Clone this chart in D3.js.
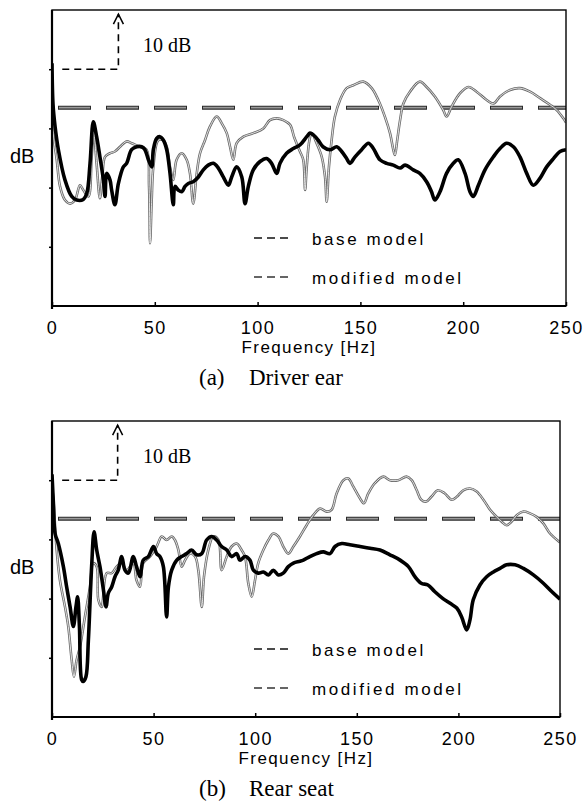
<html>
<head>
<meta charset="UTF-8">
<script src="https://d3js.org/d3.v7.min.js"></script>
<style>
  body { margin: 0; background: #fff; }
  text { fill: #000; }
  .sans { font-family: "Liberation Sans", Arial, sans-serif; }
  .serif { font-family: "Liberation Serif", "Times New Roman", serif; }
</style>
</head>
<body>
<svg id="chart" width="585" height="805"></svg>
<script>
// values: [frequency Hz, level dB] (level is relative, 10 dB per tick)
const freqTicks = [0, 50, 100, 150, 200, 250];
const levelTicks = [10, 20, 30, 40];
const refLevel = 33.5;
const legendLabels = ["base model", "modified model"];

const baseDriver = [[0.3,36],[0.6,29.2],[2.3,24.7],[3.9,20.2],[6.3,17.9],[8.8,17.3],[11.2,17.9],[13.6,20.4],[15.2,19.6],[17.7,18.5],
  [19.3,25.2],[20.3,29.5],[21.7,24],[23.3,18.2],[24.5,22],[25.8,25.2],[28.2,25.8],[30.6,26.1],[33.1,26.9],[36.3,27.8],[38.7,27.5],
  [42.8,26.9],[46.0,26.4],[47.2,20.2],[47.7,10.6],[48.5,17.9],[49.3,23.5],[51.7,28.0],[54.2,28.0],[55.8,26.9],[57.4,23.5],[59.0,21.3],
  [60.6,24.7],[63.1,25.8],[65.5,24.7],[67.1,22.4],[68.7,17.3],[70.4,22.4],[72.0,25.8],[74.4,28.0],[76.8,30.3],[80.1,32.0],[82.5,30.9],
  [85.0,29.2],[86.6,26.9],[88.2,24.7],[89.8,27.5],[93.1,28.6],[97.9,29.2],[102.8,30.0],[106.0,31.4],[109.3,31.7],[112.5,31.4],
  [115.8,30.6],[117.8,28.5],[120.6,26.1],[122.2,24.7],[123.1,19.6],[123.9,23.5],[125.2,28.0],[126.3,29.2],[128.7,27.5],[131.2,25.2],
  [132.8,21.8],[133.6,17.6],[134.7,23.5],[136.0,28.0],[137.6,32.0],[140.1,34.8],[143.3,36.8],[146.6,37.3],[151.4,37.9],[155.5,36.8],
  [158.7,34.8],[161.9,32.0],[164.4,29.2],[166.0,26.4],[166.8,25.5],[167.9,28.0],[169.3,31.4],[170.9,34.2],[174.1,36.2],[178.9,37.9],
  [182.2,37.0],[186.2,35.4],[190.3,33.1],[191.9,32.0],[194.4,33.7],[198.4,35.9],[202.5,37.0],[206.5,36.2],[211.4,34.8],[214.7,34.2],
  [217.9,35.4],[222.8,36.5],[227.6,36.8],[232.5,36.2],[237.4,35.1],[242.2,34.0],[245.5,33.1],[248.7,31.7],[250,31]];

const modDriver = [[0,41],[0.5,34],[1.5,30.3],[3.1,26.4],[6.3,21.3],[9.6,18.5],[12.0,17.9],[15.2,18.0],[16.9,19.0],[18.5,24.1],
  [20.1,31.1],[21.7,28.6],[23.3,25.2],[25.0,21.3],[25.8,18.5],[26.6,22.4],[28.2,21.3],[29.0,19.6],[30.6,17.1],[32.3,20.7],[34.7,23.5],
  [36.3,24.1],[38.7,26.4],[41.2,26.9],[43.6,26.9],[45.2,26.4],[46.9,24.7],[48.5,23.5],[49.3,26.4],[50.9,28.3],[52.5,28.6],[54.2,28.0],
  [55.8,26.4],[57.4,22.4],[59.0,17.1],[59.8,20.2],[61.4,19.6],[63.1,19.3],[64.7,20.2],[66.3,20.7],[68.7,21.0],[71.2,21.8],[73.6,23.0],
  [76.0,23.8],[78.5,24.1],[80.9,23.3],[83.3,21.8],[85.8,20.4],[87.4,21.8],[89.8,23.5],[92.3,21.8],[93.9,17.3],[95.5,20.2],[97.9,23.0],
  [101.2,24.4],[104.4,24.9],[106.8,24.1],[109.3,22.4],[110.9,24.1],[114.1,25.8],[117.4,26.6],[120.6,27.2],[123.9,28.6],[125.5,29.2],
  [127.1,28.9],[129.5,28.0],[131.8,26.9],[135.2,26.4],[138.5,26.9],[140.9,26.1],[143.3,24.9],[144.9,24.1],[147.4,25.2],[150.6,26.4],
  [153.9,27.5],[156.3,26.6],[159.5,24.7],[162.8,24.1],[166.0,23.8],[169.3,23.3],[171.7,23.8],[175.7,23.0],[178.9,22.4],[182.2,21.0],
  [184.6,19.3],[186.2,17.9],[188.7,19.3],[191.9,22.4],[195.2,24.1],[197.6,24.7],[200.9,22.4],[203.3,19.3],[204.9,18.5],[207.4,20.4],
  [210.6,23.0],[214.7,25.2],[217.9,26.6],[221.1,27.5],[224.4,26.9],[227.6,25.2],[230.9,22.4],[234.1,20.4],[237.4,21.6],[240.6,23.5],
  [243.9,24.9],[247.1,26.1],[250,26.4]];

const baseRear = [[0.3,38],[0.7,36.7],[2.3,28.2],[3.9,23.1],[6.4,18.6],[8.0,15.3],[9.7,9.6],[10.8,6.8],[12.1,9.6],[13.8,11.9],
  [16.2,16.9],[18.7,22.0],[20.3,26.0],[22.0,25.4],[22.8,19.8],[24.4,18.6],[26.9,24.3],[29.4,24.3],[31.8,25.4],[34.3,26.0],[36.7,24.8],
  [40.0,26.0],[41.6,23.1],[43.3,22.0],[44.9,26.0],[48.2,27.1],[51.5,28.8],[54.0,30.5],[56.4,29.9],[58.9,30.5],[60.5,29.9],[62.2,28.2],
  [63.8,25.4],[65.5,26.5],[67.9,27.6],[70.4,27.1],[72.0,24.8],[73.7,18.6],[74.8,23.7],[76.9,28.2],[79.4,30.5],[81.9,29.9],[83.5,24.8],
  [86.0,27.1],[88.4,28.8],[90.9,29.3],[93.3,28.2],[95.0,27.1],[96.6,22.6],[98.3,20.3],[99.9,23.1],[101.5,26.0],[104.0,28.2],[106.5,29.9],
  [108.9,31.0],[111.4,30.5],[113.8,28.8],[116.3,27.6],[118.8,28.8],[122.0,30.5],[125.3,32.4],[128.6,34.1],[131.9,35.2],[135.2,34.7],
  [137.6,35.0],[140.1,37.8],[143.4,40.0],[145.8,40.3],[148.3,38.9],[151.6,36.9],[153.5,36.1],[155.7,37.8],[158.9,39.5],[163.1,40.6],
  [166.3,40.0],[170.4,40.0],[174.5,40.6],[177.0,40.0],[179.5,38.3],[181.7,36.7],[184.2,36.4],[186.7,37.2],[189.9,38.3],[193.2,37.8],
  [196.7,36.7],[199.2,37.2],[202.4,38.3],[205.7,38.6],[209.0,38.1],[212.3,36.7],[215.6,35.0],[218.8,33.8],[221.3,33.0],[223.7,32.4],
  [226.2,33.0],[228.7,34.1],[232.0,34.7],[235.2,34.4],[238.5,33.8],[241.8,32.7],[245.1,31.0],[250,29.5]];

const modRear = [[0,41],[0.7,36],[1.5,31.0],[3.1,29.3],[5.6,25.4],[7.2,22.0],[8.9,18.6],[10.5,15.3],[11.8,18.6],[12.6,20.3],
  [13.5,15.3],[14.6,6.3],[15.4,6.0],[16.7,6.8],[17.9,13.0],[19.5,25.4],[20.7,31.3],[22.0,28.2],[23.6,25.4],[25.3,21.5],[26.6,18.6],
  [27.7,20.9],[29.4,22.0],[31.0,23.7],[32.6,24.8],[34.3,27.1],[35.9,24.8],[37.6,24.3],[40.0,27.1],[41.6,25.4],[43.3,23.7],[44.9,26.5],
  [47.4,27.1],[49.9,28.8],[51.5,27.6],[53.1,27.1],[54.8,25.4],[56.4,16.9],[57.3,22.0],[58.9,24.8],[61.4,26.5],[63.8,27.1],[66.3,27.6],
  [68.7,28.2],[71.2,27.4],[73.7,27.6],[76.1,29.9],[78.6,30.5],[81.0,29.9],[83.5,28.8],[86.0,28.2],[88.4,27.1],[90.9,27.6],[92.5,26.5],
  [95.0,27.1],[97.4,26.5],[99.1,24.8],[101.5,24.3],[104.0,24.5],[106.5,24.0],[108.9,24.8],[111.4,24.0],[113.8,24.3],[116.3,25.4],
  [118.8,26.0],[122.0,26.3],[123.7,26.5],[126.9,27.1],[130.2,27.6],[133.5,27.9],[136.8,27.6],[139.3,28.8],[142.6,29.3],[146.6,29.1],
  [151.6,28.8],[156.5,28.5],[161.4,28.2],[166.3,27.4],[171.3,26.5],[175.4,25.4],[178.6,23.7],[181.7,22.6],[185.0,22.3],[188.3,21.2],
  [192.4,20.0],[195.9,19.2],[199.2,18.4],[201.6,16.9],[204.1,14.7],[205.7,16.4],[207.3,19.8],[210.6,22.3],[213.9,23.7],[217.2,24.5],
  [220.5,25.1],[223.7,25.7],[227.9,25.7],[232.0,25.1],[236.9,24.0],[241.8,22.6],[245.9,21.2],[250,19.9]];

const panels = [
  { top: 10, right: 566, base: baseDriver, mod: modDriver, tag: "(a)", caption: "Driver ear" },
  { top: 421, right: 560, base: baseRear, mod: modRear, tag: "(b)", caption: "Rear seat" }
];

var svg = d3.select("#chart");
svg.append("rect").attr("width", 585).attr("height", 805).attr("fill", "#fff");

var left = 52;
var plotH = 296;

panels.forEach(function(p) {
  var bottom = p.top + plotH;
  var x = d3.scaleLinear().domain([0, 250]).range([left, p.right]);
  var y = d3.scaleLinear().domain([0, 50]).range([bottom, p.top]);
  var g = svg.append("g");

  var clipId = "clip" + p.top;
  g.append("clipPath").attr("id", clipId).append("rect")
    .attr("x", left).attr("y", p.top).attr("width", p.right - left).attr("height", plotH);

  var line = d3.line().x(d => x(d[0])).y(d => y(d[1])).curve(d3.curveCatmullRom.alpha(0.5));

  // reference level (dashed)
  var ref = g.append("g").attr("clip-path", "url(#" + clipId + ")");
  ref.append("line").attr("x1", x(0)).attr("x2", x(250)).attr("y1", y(refLevel)).attr("y2", y(refLevel))
    .attr("stroke", "#2a2a2a").attr("stroke-width", 4).attr("stroke-dasharray", "33,15").attr("stroke-dashoffset", 42);
  ref.append("line").attr("x1", x(0)).attr("x2", x(250)).attr("y1", y(refLevel)).attr("y2", y(refLevel))
    .attr("stroke", "#9a9a9a").attr("stroke-width", 1.8).attr("stroke-dasharray", "31,17").attr("stroke-dashoffset", 41);

  var curves = g.append("g").attr("clip-path", "url(#" + clipId + ")")
    .attr("fill", "none").attr("stroke-linejoin", "round");
  // base model: thin outlined grey trace
  curves.append("path").attr("d", line(p.base)).attr("stroke", "#6a6a6a").attr("stroke-width", 2.6);
  curves.append("path").attr("d", line(p.base)).attr("stroke", "#eeeeee").attr("stroke-width", 0.9);
  // modified model: heavy black trace
  curves.append("path").attr("d", line(p.mod)).attr("stroke", "#000").attr("stroke-width", 3.6);

  // axes
  var xAxis = d3.axisBottom(x).tickValues(freqTicks).tickSizeInner(-4).tickSizeOuter(0).tickPadding(15);
  var xg = g.append("g").attr("transform", "translate(0," + bottom + ")").call(xAxis);
  xg.select(".domain").remove();
  xg.selectAll("line").attr("stroke", "#000").attr("stroke-width", 1.5);
  xg.selectAll("text").attr("class", "sans").style("font-size", "18px").style("letter-spacing", "1.5px").attr("fill", "#000");

  var yAxis = d3.axisLeft(y).tickValues(levelTicks).tickSizeInner(3).tickSizeOuter(0).tickFormat("");
  var yg = g.append("g").attr("transform", "translate(" + left + ",0)").call(yAxis);
  yg.select(".domain").remove();
  yg.selectAll("line").attr("stroke", "#000").attr("stroke-width", 1.5);

  // frame
  g.append("rect").attr("x", left).attr("y", p.top).attr("width", p.right - left).attr("height", plotH)
    .attr("fill", "none").attr("stroke", "#000").attr("stroke-width", 1.4);
  g.append("line").attr("x1", left).attr("x2", left).attr("y1", p.top).attr("y2", bottom + 3)
    .attr("stroke", "#000").attr("stroke-width", 2.2);
  g.append("line").attr("x1", left).attr("x2", p.right).attr("y1", bottom).attr("y2", bottom)
    .attr("stroke", "#000").attr("stroke-width", 2);

  // 10 dB scale marker
  g.append("path")
    .attr("d", "M" + x(5) + "," + y(40) + "H" + x(32.3) + "V" + y(49.3))
    .attr("fill", "none").attr("stroke", "#000").attr("stroke-width", 1.6).attr("stroke-dasharray", "7,5");
  g.append("path")
    .attr("d", "M" + (x(32.3) - 5) + "," + (y(49.3) + 10) + "L" + x(32.3) + "," + y(49.3) + "L" + (x(32.3) + 5) + "," + (y(49.3) + 10))
    .attr("fill", "none").attr("stroke", "#000").attr("stroke-width", 1.5);
  g.append("text").attr("class", "serif").attr("x", 143).attr("y", p.top + 42)
    .style("font-size", "20px").text("10 dB");

  // y label
  g.append("text").attr("class", "sans").attr("x", 10).attr("y", p.top + 153)
    .style("font-size", "20px").text("dB");

  // legend
  legendLabels.forEach(function(lab, i) {
    var ly = p.top + 228 + i * 39;
    g.append("line").attr("x1", 254).attr("x2", 292).attr("y1", ly).attr("y2", ly)
      .attr("stroke", i == 0 ? "#111" : "#333").attr("stroke-width", 1.5).attr("stroke-dasharray", "8,5");
    g.append("text").attr("class", "sans").attr("x", 312).attr("y", ly + 7)
      .style("font-size", "17px").style("letter-spacing", "2.6px").text(lab);
  });

  // x label and caption
  g.append("text").attr("class", "sans").attr("x", (left + p.right) / 2).attr("y", bottom + 47)
    .attr("text-anchor", "middle").style("font-size", "17px").style("letter-spacing", "1.4px").text("Frequency [Hz]");
  g.append("text").attr("class", "serif").attr("x", 199).attr("y", bottom + 79)
    .style("font-size", "23px").text(p.tag);
  g.append("text").attr("class", "serif").attr("x", 249).attr("y", bottom + 79)
    .style("font-size", "23px").text(p.caption);
});
</script>
</body>
</html>
